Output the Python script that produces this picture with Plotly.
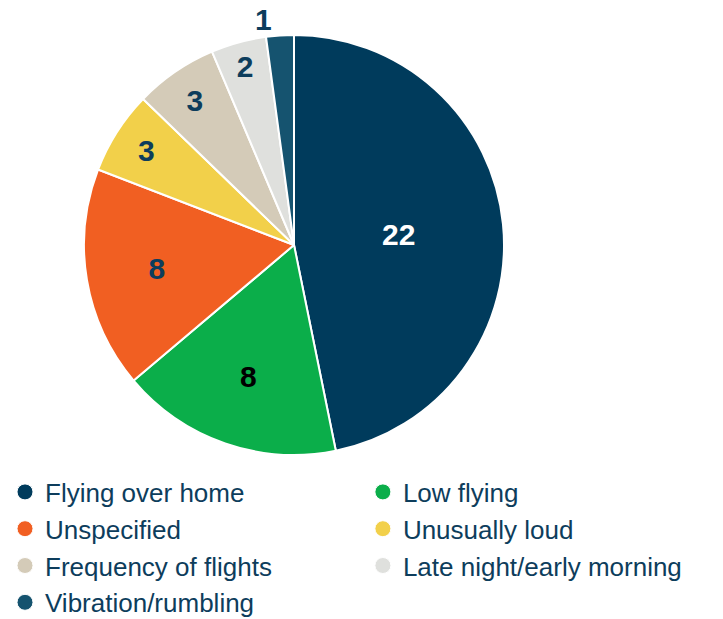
import plotly.graph_objects as go

categories = ["Flying over home", "Low flying", "Unspecified", "Unusually loud",
              "Frequency of flights", "Late night/early morning", "Vibration/rumbling"]
values = [22, 8, 8, 3, 3, 2, 1]
colors = ["#003b5c", "#0bae4a", "#f15f22", "#f2d04a", "#d4cbb8", "#dfe0dd", "#15536f"]
text_colors = ["#ffffff", "#000000", "#0d3d5c", "#0d3d5c", "#0d3d5c", "#0d3d5c", "#0d3d5c"]
text_positions = ["inside"] * 6 + ["outside"]

W, H = 723, 619
fig = go.Figure()
fig.add_trace(go.Pie(
    labels=categories, values=values, sort=False, direction="clockwise", rotation=0,
    marker=dict(colors=colors, line=dict(color="white", width=2)),
    textinfo="value", textposition=text_positions,
    insidetextorientation="horizontal",
    textfont=dict(family="Liberation Sans, Arial", size=30, color=text_colors, weight="bold"),
    showlegend=False,
    domain=dict(x=[84 / W, 504 / W], y=[1 - 455 / H, 1 - 35 / H]),
    hoverinfo="label+value",
))
for name, col in zip(categories, colors):
    fig.add_trace(go.Scatter(
        x=[None], y=[None], mode="markers", name=name,
        marker=dict(symbol="circle", size=20, color=col, line=dict(color="white", width=1)),
    ))

fig.update_layout(
    width=W, height=H,
    margin=dict(l=0, r=0, t=0, b=0, autoexpand=False),
    paper_bgcolor="white", plot_bgcolor="white",
    xaxis=dict(visible=False), yaxis=dict(visible=False),
    font=dict(family="Liberation Sans, Arial", color="#0d3d5c"),
    legend=dict(
        orientation="h", x=5 / W, y=1 - 468.5 / H, xanchor="left", yanchor="top",
        entrywidth=0.495, entrywidthmode="fraction",
        font=dict(size=26, color="#0d3d5c"), itemsizing="trace",
        bgcolor="rgba(0,0,0,0)", tracegroupgap=0,
    ),
)
fig.write_html("out.html", post_script="document.body.style.margin='0';",
               config={"displayModeBar": False})
